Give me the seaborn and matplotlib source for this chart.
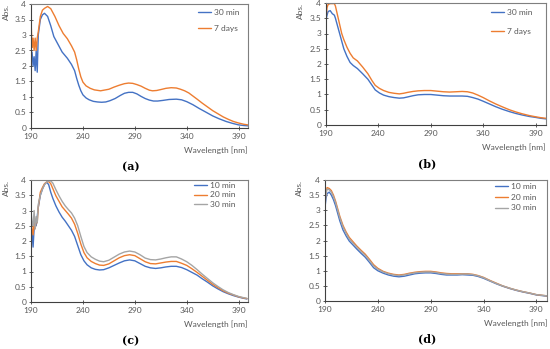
import matplotlib
matplotlib.use("Agg")
import matplotlib.pyplot as plt
import numpy as np
import pandas as pd
import seaborn as sns

# UV-Vis spectra
# (a) 30 min vs 7 days
wl_a_30 = [190, 191, 192, 193, 194, 195, 196, 197, 199, 201, 203, 206, 209, 212, 216, 220, 225, 229, 232, 234,
           236, 238, 240, 243, 246, 250, 254, 258, 262, 266, 271, 276, 280, 284, 288, 292, 296, 300, 304, 308,
           312, 317, 323, 330, 335, 340, 346, 352, 358, 365, 371, 378, 384, 390, 395, 399]
abs_a_30 = [2.2, 2.45, 2.0, 2.3, 1.85, 2.5, 1.8, 3.0, 3.5, 3.65, 3.7, 3.6, 3.3, 2.95, 2.7, 2.45, 2.25, 2.05, 1.85, 1.6,
            1.38, 1.2, 1.07, 0.97, 0.91, 0.86, 0.84, 0.83, 0.84, 0.88, 0.95, 1.05, 1.12, 1.15, 1.15, 1.1, 1.02, 0.95, 0.9, 0.87,
            0.87, 0.89, 0.92, 0.93, 0.91, 0.85, 0.75, 0.63, 0.52, 0.39, 0.3, 0.21, 0.15, 0.1, 0.08, 0.07]
wl_a_7d = [190, 191, 192, 193, 194, 195, 196, 197, 199, 201, 203, 206, 209, 213, 217, 221, 225, 229, 232, 234, 236,
           238, 240, 243, 247, 251, 257, 265, 270, 275, 280, 284, 288, 292, 296, 300, 304, 307, 311, 315, 320,
           325, 330, 334, 338, 342, 346, 350, 355, 360, 365, 370, 375, 380, 385, 390, 395, 399]
abs_a_7d = [3.5, 2.6, 2.9, 2.5, 2.9, 2.5, 2.9, 3.1, 3.6, 3.8, 3.86, 3.92, 3.85, 3.6, 3.3, 3.05, 2.88, 2.65, 2.45, 2.2, 1.9,
            1.65, 1.48, 1.36, 1.28, 1.23, 1.2, 1.25, 1.32, 1.38, 1.43, 1.45, 1.44, 1.4, 1.35, 1.28, 1.22, 1.2, 1.21, 1.24, 1.28,
            1.3, 1.29, 1.25, 1.2, 1.13, 1.03, 0.93, 0.8, 0.68, 0.56, 0.46, 0.36, 0.28, 0.21, 0.16, 0.12, 0.1]

# (b) 30 min vs 7 days
wl_b = [190, 191, 192, 194, 196, 198, 199, 201, 203, 205, 207, 210, 213, 216, 220, 225, 230, 234, 237, 241, 245, 250,
        255, 260, 264, 268, 273, 278, 284, 290, 296, 302, 308, 314, 320, 325, 330, 335, 340, 346, 352, 358, 365,
        371, 377, 384, 390, 395, 400]
abs_b_30 = [3.45, 3.6, 3.72, 3.75, 3.65, 3.6, 3.5, 3.25, 3.0, 2.75, 2.5, 2.25, 2.05, 1.95, 1.85, 1.68, 1.5, 1.3, 1.15, 1.05, 0.98, 0.93,
            0.9, 0.88, 0.89, 0.92, 0.96, 0.99, 1.0, 1.0, 0.98, 0.96, 0.95, 0.95, 0.95, 0.94, 0.9, 0.85, 0.78, 0.69, 0.6, 0.52, 0.44,
            0.38, 0.33, 0.28, 0.25, 0.22, 0.2]
abs_b_7d = [3.5, 3.85, 3.95, 3.98, 3.98, 3.98, 3.9, 3.6, 3.3, 3.0, 2.8, 2.55, 2.35, 2.2, 2.1, 1.9, 1.68, 1.45, 1.3, 1.2, 1.13, 1.07,
            1.04, 1.02, 1.04, 1.07, 1.1, 1.12, 1.13, 1.13, 1.11, 1.09, 1.08, 1.09, 1.1, 1.09, 1.05, 0.98, 0.9, 0.79, 0.69, 0.6, 0.5,
            0.43, 0.37, 0.31, 0.27, 0.24, 0.22]

# (c) 10 / 20 / 30 min
wl_c = [190, 191, 192, 193, 194, 195, 196, 197, 199, 201, 203, 205, 207, 209, 211, 214, 217, 220, 223, 226, 229, 232,
        235, 238, 241, 244, 248, 252, 256, 260, 265, 270, 275, 280, 285, 290, 295, 300, 305, 310, 315, 320, 325, 330,
        335, 340, 345, 350, 355, 360, 365, 370, 375, 380, 385, 390, 395, 398]
abs_c_10 = [2.1, 2.3, 1.8, 2.4, 2.6, 2.5, 2.8, 3.1, 3.5, 3.7, 3.85, 3.93, 3.85, 3.6, 3.4, 3.15, 2.95, 2.78, 2.65, 2.5, 2.35, 2.15,
            1.85, 1.55, 1.35, 1.22, 1.12, 1.07, 1.05, 1.06, 1.12, 1.2, 1.28, 1.35, 1.38, 1.35, 1.26, 1.17, 1.12, 1.1, 1.12, 1.15,
            1.17, 1.17, 1.13, 1.06, 0.97, 0.88, 0.76, 0.65, 0.53, 0.43, 0.34, 0.27, 0.21, 0.16, 0.12, 0.1]
abs_c_20 = [2.8, 2.4, 2.2, 2.6, 2.4, 2.7, 2.6, 3.1, 3.6, 3.75, 3.88, 3.93, 3.95, 3.88, 3.72, 3.48, 3.3, 3.12, 3.0, 2.88, 2.75, 2.55,
            2.25, 1.9, 1.62, 1.45, 1.33, 1.26, 1.21, 1.2, 1.25, 1.35, 1.45, 1.52, 1.55, 1.52, 1.42, 1.32, 1.26, 1.25, 1.28, 1.31,
            1.33, 1.33, 1.27, 1.2, 1.09, 0.97, 0.84, 0.71, 0.58, 0.47, 0.37, 0.29, 0.23, 0.17, 0.13, 0.11]
abs_c_30 = [3.0, 2.6, 2.5, 3.0, 2.4, 2.8, 2.6, 3.2, 3.5, 3.7, 3.85, 3.93, 3.97, 3.97, 3.9, 3.68, 3.48, 3.3, 3.15, 3.03, 2.92, 2.75,
            2.5, 2.15, 1.82, 1.62, 1.48, 1.4, 1.34, 1.32, 1.37, 1.47, 1.57, 1.64, 1.67, 1.64, 1.55, 1.44, 1.39, 1.38, 1.41, 1.45,
            1.48, 1.48, 1.41, 1.32, 1.2, 1.06, 0.91, 0.77, 0.63, 0.51, 0.4, 0.31, 0.24, 0.18, 0.14, 0.12]

# (d) 10 / 20 / 30 min
wl_d = [190, 191, 192, 194, 196, 198, 200, 202, 204, 207, 210, 213, 216, 220, 224, 228, 232, 236, 240, 245, 250, 255,
        260, 265, 270, 275, 280, 285, 290, 295, 300, 305, 310, 315, 320, 325, 330, 335, 340, 346, 352, 358, 365,
        371, 377, 384, 390, 395, 400]
abs_d_10 = [3.1, 3.4, 3.55, 3.6, 3.5, 3.35, 3.15, 2.9, 2.65, 2.35, 2.15, 1.98, 1.87, 1.72, 1.58, 1.45, 1.28, 1.1, 1.0, 0.92, 0.86, 0.82,
            0.8, 0.82, 0.86, 0.9, 0.92, 0.93, 0.93, 0.91, 0.88, 0.86, 0.86, 0.86, 0.87, 0.86, 0.85, 0.81, 0.75, 0.66, 0.57, 0.49, 0.41,
            0.35, 0.3, 0.25, 0.2, 0.18, 0.16]
abs_d_20 = [3.3, 3.6, 3.75, 3.72, 3.65, 3.5, 3.3, 3.05, 2.8, 2.5, 2.28, 2.1, 1.98, 1.82, 1.68, 1.55, 1.38, 1.2, 1.08, 0.98, 0.92, 0.88,
            0.86, 0.88, 0.92, 0.95, 0.97, 0.98, 0.98, 0.96, 0.93, 0.91, 0.9, 0.9, 0.9, 0.9, 0.88, 0.84, 0.78, 0.68, 0.59, 0.5, 0.42,
            0.36, 0.31, 0.26, 0.21, 0.19, 0.17]
abs_d_30 = [3.2, 3.55, 3.7, 3.68, 3.6, 3.45, 3.25, 3.0, 2.75, 2.45, 2.23, 2.05, 1.93, 1.78, 1.64, 1.51, 1.34, 1.16, 1.05, 0.96, 0.9, 0.86,
            0.84, 0.86, 0.9, 0.93, 0.95, 0.96, 0.96, 0.94, 0.91, 0.89, 0.88, 0.88, 0.89, 0.89, 0.87, 0.83, 0.77, 0.67, 0.58, 0.5, 0.42,
            0.36, 0.31, 0.26, 0.21, 0.19, 0.17]

colors = {"blue": "#4472C4", "orange": "#ED7D31", "gray": "#A5A5A5"}


def frame(pairs):
    parts = []
    for label, wl, ab in pairs:
        parts.append(pd.DataFrame({"wl": wl, "abs": ab, "series": label}))
    return pd.concat(parts, ignore_index=True)


panels = [
    ("(a)", [31, 4, 217, 124], 399, frame([("30 min", wl_a_30, abs_a_30), ("7 days", wl_a_7d, abs_a_7d)]),
     ["blue", "orange"], (198, 9), 1.05),
    ("(b)", [326, 3, 220, 122], 400, frame([("30 min", wl_b, abs_b_30), ("7 days", wl_b, abs_b_7d)]),
     ["blue", "orange"], (491, 9), 1.45),
    ("(c)", [31, 180, 217, 122], 399, frame([("10 min", wl_c, abs_c_10), ("20 min", wl_c, abs_c_20),
                                            ("30 min", wl_c, abs_c_30)]),
     ["blue", "orange", "gray"], (194, 182), 0.3),
    ("(d)", [325, 180, 222, 121], 400, frame([("10 min", wl_d, abs_d_10), ("20 min", wl_d, abs_d_20),
                                            ("30 min", wl_d, abs_d_30)]),
     ["blue", "orange", "gray"], (495, 183), 0.45),
]

sns.set_style("white")
plt.rcParams["font.family"] = ["Lato", "DejaVu Sans"]

W, H = 550, 349
fig = plt.figure(figsize=(W / 100, H / 100), dpi=100)

for cap, (l, t, w, h), xmax, df, cols, leg_xy, spacing in panels:
    ax = fig.add_axes([l / W, 1 - (t + h) / H, w / W, h / H])
    sns.lineplot(data=df, x="wl", y="abs", hue="series", palette=[colors[c] for c in cols],
                 linewidth=1.0, ax=ax, sort=False, estimator=None)
    ax.set_xlim(190, xmax)
    ax.set_ylim(0, 4)
    ax.set_xticks([190, 240, 290, 340, 390])
    ax.set_yticks([0, 0.5, 1, 1.5, 2, 2.5, 3, 3.5, 4])
    ax.set_yticklabels(["0", "0.5", "1", "1.5", "2", "2.5", "3", "3.5", "4"])
    ax.tick_params(labelsize=6, length=3, width=0.6, direction="inout", colors="#404040",
                   labelcolor="#595959", pad=2, left=True, bottom=True)
    ax.set_xlabel("")
    ax.set_ylabel("")
    for s in ["left", "bottom"]:
        ax.spines[s].set_color("#404040")
        ax.spines[s].set_linewidth(0.8)
    for s in ["top", "right"]:
        ax.spines[s].set_color("#7F7F7F")
        ax.spines[s].set_linewidth(0.8)
    ax.text(-0.115, 1.0, "Abs.", transform=ax.transAxes, rotation=90, ha="center", va="top",
            fontsize=6, color="#595959")
    ax.text(1.0, -0.15, "Wavelength [nm]", transform=ax.transAxes, ha="right", va="top",
            fontsize=6, color="#595959")
    ax.text(0.5 - 0.04, -0.27, cap, transform=ax.transAxes, ha="center", va="top",
            fontsize=8, fontweight="bold", family="DejaVu Serif", color="black")
    handles, labels = ax.get_legend_handles_labels()
    ax.legend(handles, labels, loc="upper left", bbox_to_anchor=(leg_xy[0] / W, 1 - leg_xy[1] / H),
              bbox_transform=fig.transFigure, frameon=False, fontsize=6, handlelength=1.6,
              handletextpad=0.3, labelspacing=spacing, borderpad=0, borderaxespad=0,
              labelcolor="#595959")

fig.savefig("out.png", dpi=100)
